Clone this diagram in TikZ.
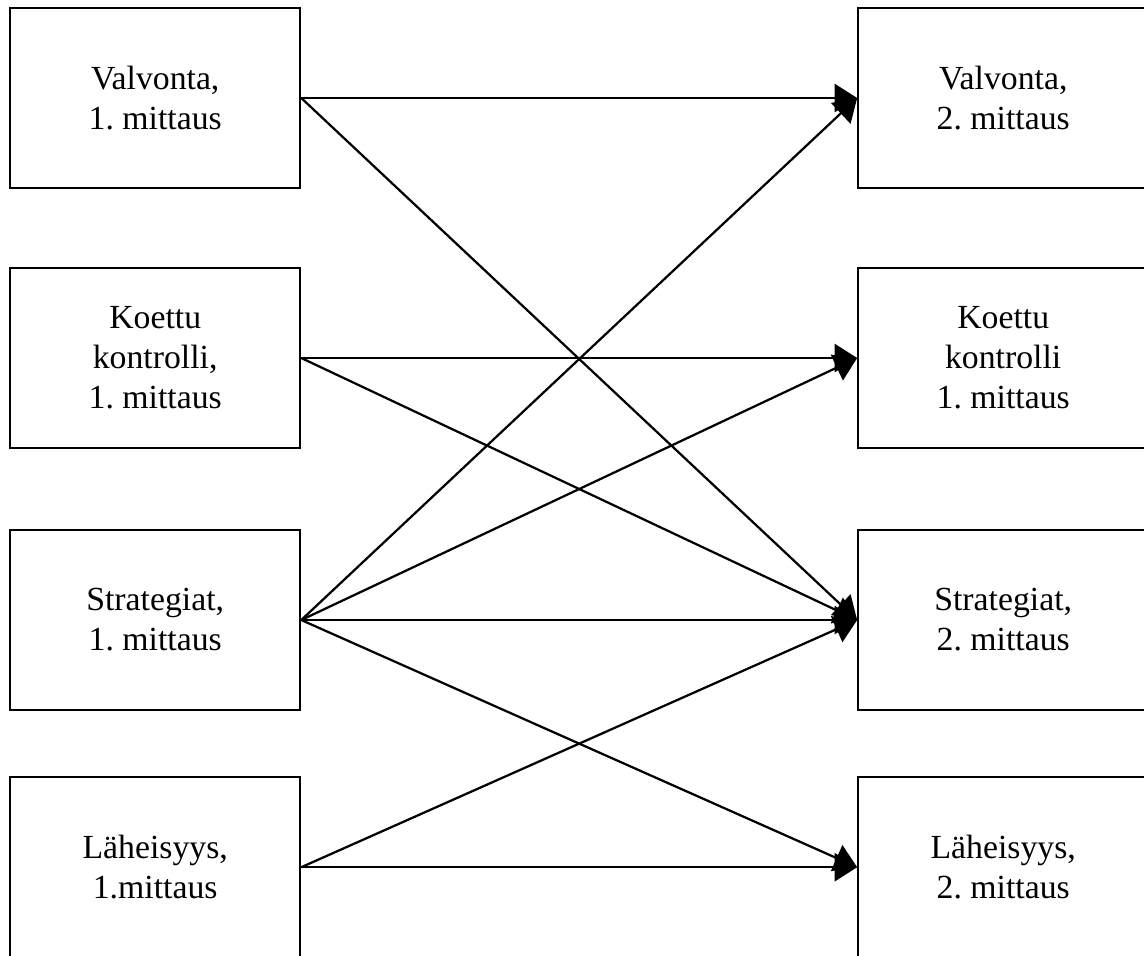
\documentclass[tikz,border=0pt]{standalone}
\usepackage{fontspec}
\setmainfont{Liberation Serif}
\usetikzlibrary{arrows.meta}
\frenchspacing

\begin{document}
\begin{tikzpicture}[
    box/.style={draw, line width=0.75pt, minimum width=3.625cm, minimum height=2.25cm, align=center, font=\fontsize{12}{14.2}\selectfont},
    link/.style={line width=0.8pt, -{Triangle[length=8pt, width=10pt]}}
]

\clip (0, 0) rectangle (14.3, -11.94);

% first measurement
\node[box] (v1) at (1.94, -1.225) {Valvonta,\\1. mittaus};
\node[box] (k1) at (1.94, -4.475) {Koettu\\kontrolli,\\1. mittaus};
\node[box] (s1) at (1.94, -7.75) {Strategiat,\\1. mittaus};
\node[box] (l1) at (1.94, -10.84) {Läheisyys,\\1.mittaus};

% second measurement
\node[box] (v2) at (12.54, -1.225) {Valvonta,\\2. mittaus};
\node[box] (k2) at (12.54, -4.475) {Koettu\\kontrolli\\1. mittaus};
\node[box] (s2) at (12.54, -7.75) {Strategiat,\\2. mittaus};
\node[box] (l2) at (12.54, -10.84) {Läheisyys,\\2. mittaus};

\draw[link] (v1.east) -- (v2.west);
\draw[link] (v1.east) -- (s2.west);
\draw[link] (k1.east) -- (k2.west);
\draw[link] (k1.east) -- (s2.west);
\draw[link] (s1.east) -- (v2.west);
\draw[link] (s1.east) -- (k2.west);
\draw[link] (s1.east) -- (s2.west);
\draw[link] (s1.east) -- (l2.west);
\draw[link] (l1.east) -- (s2.west);
\draw[link] (l1.east) -- (l2.west);
\end{tikzpicture}
\end{document}
